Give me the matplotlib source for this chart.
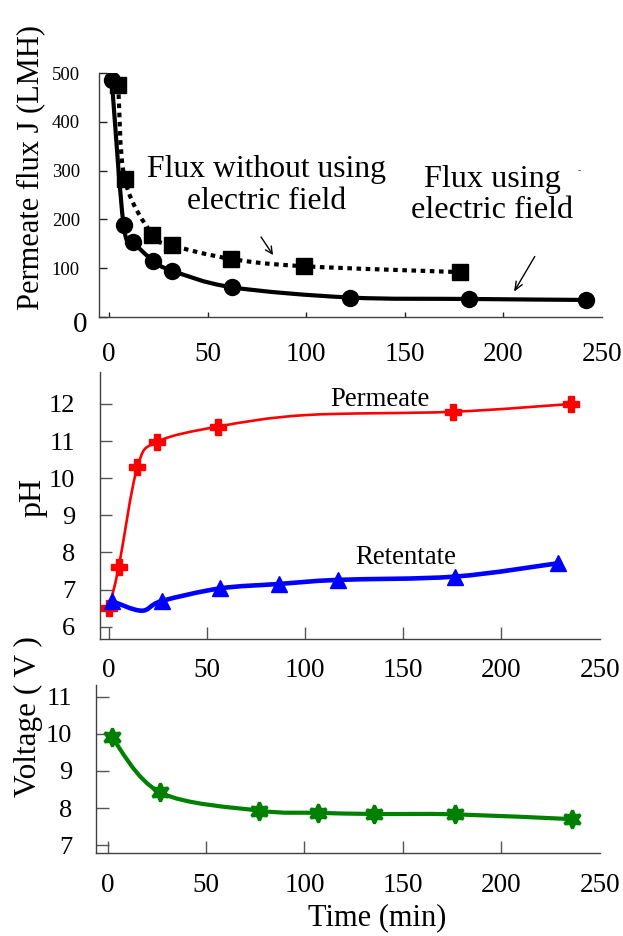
import numpy as np
import matplotlib
matplotlib.use('Agg')
import matplotlib.pyplot as plt
from matplotlib.path import Path
from matplotlib.patches import PathPatch

plt.rcParams['font.family'] = ['Liberation Serif', 'DejaVu Serif']

# permeate flux (top panel)
t_field = [1.4, 7.4, 12.4, 22.5, 32, 62.3, 122, 182.7, 241.7]
J_field = [486, 189, 154, 115, 95, 61, 40, 37, 35]
t_nofield = [4.7, 8, 22, 32, 62, 99, 178]
J_nofield = [475, 282, 169, 147, 119, 104, 92]

# pH (middle panel)
t_perm = [0, 5, 14.5, 24.5, 55.5, 100, 175.5, 235.5]
pH_perm = [6.49, 7.6, 10.29, 10.98, 11.39, 11.70, 11.79, 12.0]
perm_marked = [0, 1, 2, 3, 4, 6, 7]  # the 100 min point has no marker
t_ret = [1.5, 16.7, 26.9, 56.5, 86.5, 116.5, 176.5, 229]
pH_ret = [6.69, 6.43, 6.69, 7.03, 7.15, 7.26, 7.35, 7.71]
ret_marked = [0, 2, 3, 4, 5, 6, 7]   # the dip point has no marker

# voltage (bottom panel)
t_volt = [2, 26.8, 77, 107, 135.5, 176.5, 236]
volt = [9.92, 8.42, 7.93, 7.87, 7.84, 7.83, 7.70]

x_ticks = [0, 50, 100, 150, 200, 250]


def smooth_path(x, y):
    # Excel-like smoothed line: Catmull-Rom segments as cubic Bezier
    pts = np.column_stack([x, y]).astype(float)
    n = len(pts)
    verts = [pts[0]]
    codes = [Path.MOVETO]
    for i in range(n - 1):
        p0 = pts[max(i - 1, 0)]
        p1 = pts[i]
        p2 = pts[i + 1]
        p3 = pts[min(i + 2, n - 1)]
        verts += [p1 + (p2 - p0) / 6, p2 - (p3 - p1) / 6, p2]
        codes += [Path.CURVE4] * 3
    return Path(verts, codes)


def add_curve(ax, x, y, **kw):
    patch = PathPatch(smooth_path(x, y), fill=False, transform=ax.transData,
                      capstyle='butt', joinstyle='round', **kw)
    ax.add_patch(patch)


def style_axes(ax, spine_color, tick_color, xlen, ylen, xpad, ypad, xsize, ysize):
    ax.spines['top'].set_visible(False)
    ax.spines['right'].set_visible(False)
    for s in ['left', 'bottom']:
        ax.spines[s].set_color(spine_color)
        ax.spines[s].set_linewidth(1.0)
    ax.tick_params(axis='x', direction='in', length=xlen, width=1.0,
                   color=tick_color, pad=xpad, labelsize=xsize)
    ax.tick_params(axis='y', direction='in', length=ylen, width=1.0,
                   color=tick_color, pad=ypad, labelsize=ysize)
    ax.set_xticks(x_ticks)
    ax.set_xticklabels([str(v) for v in x_ticks])
    ax.xaxis.get_major_ticks()[-1].tick1line.set_visible(False)


fig = plt.figure(figsize=(6.23, 9.36), dpi=100)
ax1 = fig.add_axes([0.1589, 0.6613, 0.8074, 0.2607])
ax2 = fig.add_axes([0.1599, 0.3170, 0.8026, 0.2859])
ax3 = fig.add_axes([0.1547, 0.0884, 0.8077, 0.1798])

# ---- top: permeate flux
add_curve(ax1, t_nofield, J_nofield, edgecolor='black', linewidth=3.0,
          linestyle=(0, (1.1, 1.1)), zorder=2)
add_curve(ax1, t_field, J_field, edgecolor='black', linewidth=3.0, zorder=2)
ax1.plot(t_nofield, J_nofield, linestyle='none', marker='s', markersize=11.5,
         color='black', zorder=3)
ax1.plot(t_field, J_field, linestyle='none', marker='o', markersize=11.5,
         color='black', zorder=3)
ax1.set_xlim(-5.07, 250)
ax1.set_ylim(0, 500)
style_axes(ax1, '#404040', '#222222', 3.6, 5.8, 18, 13.7, 19.5, 13.5)
ax1.set_yticks([0, 100, 200, 300, 400, 500])
ax1.set_yticklabels(['', '100', '200', '300', '400', '500'])
ax1.annotate('0', xy=(0, 0), xycoords=('axes fraction', 'data'),
             xytext=(-8.5, -6), textcoords='offset points',
             ha='right', va='center', fontsize=21)

ax1.text(80.1, 269, 'Flux without using\nelectric field', ha='center',
         va='center', fontsize=22.8, linespacing=1.12)
ax1.text(194.2, 250, 'Flux using\nelectric field', ha='center',
         va='center', fontsize=23.2, linespacing=1.12)
ax1.annotate('', xy=(83.2, 127), xytext=(77.1, 164),
             arrowprops=dict(arrowstyle='->,head_length=0.5,head_width=0.25',
                             color='black', lw=1.0, shrinkA=0, shrinkB=0))
ax1.annotate('', xy=(205.4, 52), xytext=(215.9, 124),
             arrowprops=dict(arrowstyle='->,head_length=0.6,head_width=0.25',
                             color='black', lw=1.0, shrinkA=0, shrinkB=0))
ax1.text(238.3, 299, '-', ha='center', va='center', fontsize=7, color='#8b2a2a')

# ---- middle: pH
add_curve(ax2, t_perm, pH_perm, edgecolor='#ff0000', linewidth=1.9, zorder=2)
add_curve(ax2, t_ret, pH_ret, edgecolor='#0000ff', linewidth=3.3, zorder=2)
ax2.plot(t_perm, pH_perm, linestyle='none', marker='P', markersize=11,
         color='#ff0000', markevery=perm_marked, zorder=3)
ax2.plot(t_ret, pH_ret, linestyle='none', marker='^', markersize=12,
         color='#0000ff', markevery=ret_marked, zorder=4)
ax2.set_xlim(-4.7, 250)
ax2.set_ylim(5.66, 12.87)
style_axes(ax2, '#404040', '#555555', 8.6, 8.6, 13.7, 17.7, 19.5, 19)
ax2.set_yticks([6, 7, 8, 9, 10, 11, 12])
ax2.text(138, 12.13, 'Permeate', ha='center', va='center', fontsize=19.3)
ax2.text(151, 7.86, 'Retentate', ha='center', va='center', fontsize=19.3)

# ---- bottom: voltage
add_curve(ax3, t_volt, volt, edgecolor='#008000', linewidth=3.0, zorder=2)
ax3.plot(t_volt, volt, linestyle='none', marker=(6, 1, 0), markersize=13,
         markeredgewidth=2.2, color='#008000', zorder=3)
ax3.set_xlim(-5.7, 250)
ax3.set_ylim(6.78, 11.32)
style_axes(ax3, '#404040', '#555555', 8.6, 9.3, 14.4, 17.3, 19.5, 19)
ax3.set_yticks([7, 8, 9, 10, 11])

# axis titles
W, H = 623, 936
fig.text(31 / W, 1 - 167 / H, 'Permeate flux J (LMH)', rotation=90,
         ha='center', va='center', fontsize=22)
fig.text(33 / W, 1 - 497 / H, 'pH', rotation=90, ha='center', va='center',
         fontsize=23)
fig.text(28 / W, 1 - 717 / H, 'Voltage ( V )', rotation=90, ha='center',
         va='center', fontsize=22.5)
fig.text(377 / W, 1 - 918 / H, 'Time (min)', ha='center', va='center',
         fontsize=22)

fig.savefig('out.png', dpi=100)
